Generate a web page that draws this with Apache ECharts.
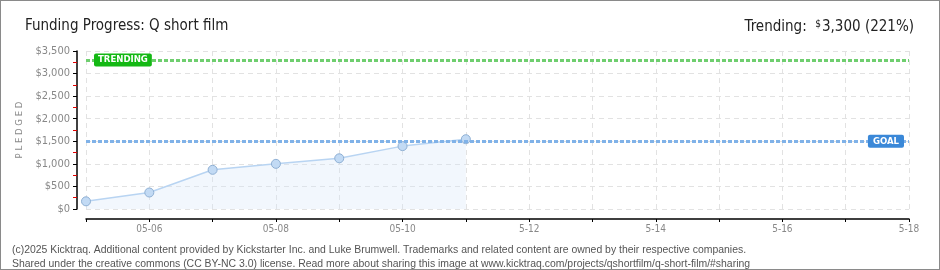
<!DOCTYPE html>
<html><head><meta charset="utf-8">
<script src="https://cdn.jsdelivr.net/npm/echarts@6/dist/echarts.min.js"></script>
<style>
html,body{margin:0;padding:0;background:#fff;}
#c{width:940px;height:270px;box-sizing:border-box;border:1px solid #8a8a8a;}
</style></head>
<body><div id="c"></div>
<script>
const categories = ['05-05','05-06','05-07','05-08','05-09','05-10','05-11','5-12','5-13','5-14','5-15','5-16','5-17','5-18'];
const pledged = [170, 365, 868, 1000, 1123, 1393, 1546];
const goal = 1500;
const trending = 3300;
const yTicks = {min: 0, max: 3500, interval: 500};
const titleText = 'Funding Progress: Q short film';
const trendingText = 'Trending:  {s|$}3,300 (221%)';
const footer1 = '(c)2025 Kicktraq. Additional content provided by Kickstarter Inc. and Luke Brumwell. Trademarks and related content are owned by their respective companies.';
const footer2 = 'Shared under the creative commons (CC BY-NC 3.0) license. Read more about sharing this image at www.kicktraq.com/projects/qshortfilm/q-short-film/#sharing';

const narrow = "'DejaVu Sans Condensed','Liberation Sans Narrow',sans-serif";
const chart = echarts.init(document.getElementById('c'), null, {renderer:'canvas'});
chart.setOption({
  animation:false,
  backgroundColor:'#fff',
  title:[
    {text:titleText, left:19, top:13, textStyle:{fontFamily:narrow, fontSize:15, fontWeight:'normal', color:'#222'}},
    {text:trendingText, right:20, top:13, textStyle:{fontFamily:narrow, fontSize:15, fontWeight:'normal', color:'#222',
      rich:{s:{fontFamily:narrow, fontSize:10, color:'#222', verticalAlign:'top', padding:[0,1,6,0]}}}},
    {text:footer1+'\n'+footer2, left:6, top:237, textStyle:{fontFamily:"'Liberation Sans',sans-serif", fontSize:10.45, fontWeight:'normal', color:'#555', lineHeight:14}}
  ],
  grid:{left:85, right:30, top:50, bottom:60, containLabel:false},
  xAxis:{
    type:'category', data:categories, boundaryGap:false, offset:10,
    axisLine:{onZero:false, lineStyle:{color:'#000', width:1.5}},
    axisTick:{show:true, interval:0, length:3, lineStyle:{color:'#000'}},
    axisLabel:{interval:(i)=>i%2===1, color:'#888', fontFamily:narrow, fontSize:10, margin:5},
    splitLine:{show:true, interval:0, lineStyle:{color:'#e2e2e2', type:[5,4]}}
  },
  yAxis:{
    type:'value', min:yTicks.min, max:yTicks.max, interval:yTicks.interval, offset:9,
    name:'P L E D G E D', nameLocation:'middle', nameGap:50, nameRotate:90,
    nameTextStyle:{color:'#888', fontFamily:narrow, fontSize:9.5},
    axisLine:{show:true, onZero:false, lineStyle:{color:'#000', width:1.5}},
    axisTick:{show:true, length:4, lineStyle:{color:'#000'}},
    minorTick:{show:true, splitNumber:2, length:4, lineStyle:{color:'#e00000'}},
    axisLabel:{color:'#888', fontFamily:narrow, fontSize:11, margin:7, formatter:(v)=>'$'+v.toLocaleString('en-US')},
    splitLine:{show:true, lineStyle:{color:'#e2e2e2', type:[5,4]}}
  },
  series:[{
    type:'line', data:pledged, symbol:'circle', symbolSize:9,
    lineStyle:{color:'#b8d4f2', width:1.5},
    itemStyle:{color:'#c2daf4', borderColor:'#8fb0d4', borderWidth:1},
    areaStyle:{color:'rgba(214,230,248,0.45)'},
    markLine:{
      silent:true, symbol:'none', animation:false,
      data:[
        {yAxis:trending, lineStyle:{color:'#6fce6f', width:3, type:[4,2]},
         label:{show:true, position:'insideStart', formatter:'TRENDING', color:'#fff', backgroundColor:'#14b814',
           borderRadius:2, padding:[2,4,1,4], fontFamily:narrow, fontSize:9.5, fontWeight:'bold', distance:[8,-7]}},
        {yAxis:goal, lineStyle:{color:'#80b2e8', width:3, type:[4,2]},
         label:{show:true, position:'insideEnd', formatter:'GOAL', color:'#fff', backgroundColor:'#3a88d8',
           borderRadius:2, padding:[2,5,1,5], fontFamily:narrow, fontSize:9.5, fontWeight:'bold', distance:[5,-7]}}
      ]
    }
  }]
});
</script></body></html>
